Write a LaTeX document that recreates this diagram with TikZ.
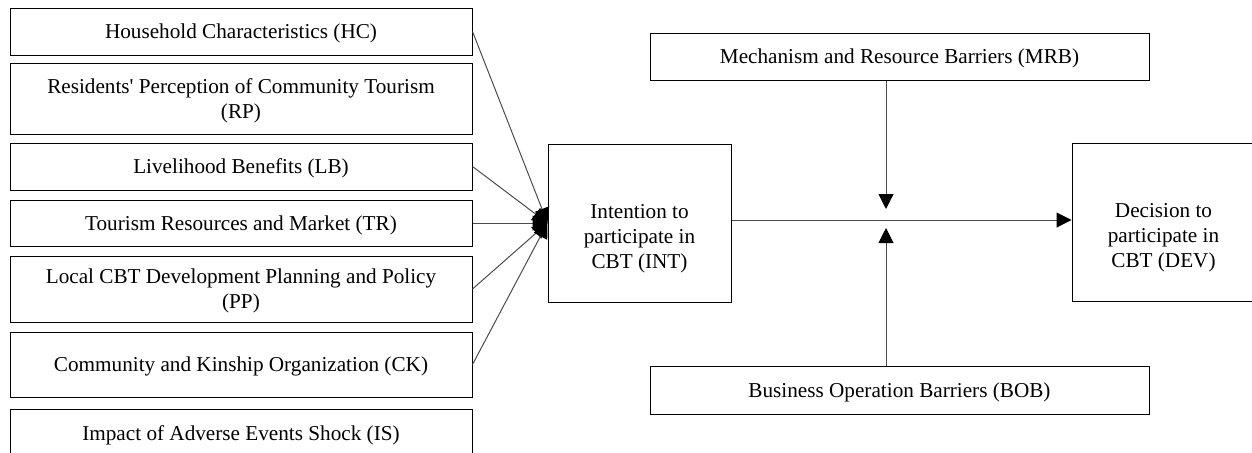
\documentclass[tikz,border=0pt]{standalone}
\usepackage{fontspec}
\setmainfont{Liberation Serif}[Ligatures=TeXOff]
\usetikzlibrary{arrows.meta,calc}

\tikzset{
  factor/.style={draw, line width=0.5pt, inner sep=0pt, text depth=0pt, align=center, minimum width=231pt},
  stage/.style={draw, line width=0.5pt, inner sep=0pt, minimum width=91.5pt, minimum height=79pt},
  stagetext/.style={align=center, text depth=0pt, yshift=-6.5pt},
  barrier/.style={draw, line width=0.5pt, inner sep=0pt, text depth=0pt, align=center, minimum width=249.5pt, minimum height=23.5pt},
  link/.style={line width=0.5pt, draw=black!70, -{Triangle[length=7.5pt,width=7.5pt,black]}}
}

\begin{document}
\begin{tikzpicture}[x=0.5pt, y=-0.5pt, font=\fontsize{10.6}{12.5}\selectfont]
  \useasboundingbox (0,0) rectangle (1252,452);

  % factors on the left
  \node[factor, minimum height=23.5pt] (HC) at (241,31.5) {Household Characteristics (HC)};
  \node[factor, minimum height=35.5pt] (RP) at (241,98.5) {Residents' Perception of Community Tourism\\(RP)};
  \node[factor, minimum height=23.5pt] (LB) at (241,166.5) {Livelihood Benefits (LB)};
  \node[factor, minimum height=23pt] (TR) at (241,223) {Tourism Resources and Market (TR)};
  \node[factor, minimum height=33pt] (PP) at (241,289) {Local CBT Development Planning and Policy\\(PP)};
  \node[factor, minimum height=32.5pt] (CK) at (241,364.5) {Community and Kinship Organization (CK)};
  \node[factor, minimum height=24pt] (IS) at (241,433) {Impact of Adverse Events Shock (IS)};

  % intention and decision (text sits a bit low in the box)
  \node[stage, label={[stagetext, name=INTtext]center:Intention to\\participate in\\CBT (INT)}] (INT) at (639.5,223) {};
  \node[stage, label={[stagetext, name=DEVtext]center:Decision to\\participate in\\CBT (DEV)}] (DEV) at (1163.5,222) {};

  % barriers
  \node[barrier] (MRB) at (899.5,56.5) {Mechanism and Resource Barriers (MRB)};
  \node[barrier, minimum height=24pt] (BOB) at (899.5,390) {Business Operation Barriers (BOB)};

  % factors -> intention
  \foreach \f in {HC,LB,TR,PP,CK}
    \draw[link] (\f.east) -- (INT.west);

  % intention -> decision
  \draw[link] ([yshift=1.5pt]INT.east) -- ([yshift=1.5pt]INT.east -| DEV.west);

  % barriers acting on the path
  \coordinate (mtip) at (886,209);
  \coordinate (btip) at (886,228);
  \draw[link] (mtip |- MRB.south) -- (mtip);
  \draw[link] (btip |- BOB.north) -- (btip);
\end{tikzpicture}
\end{document}
